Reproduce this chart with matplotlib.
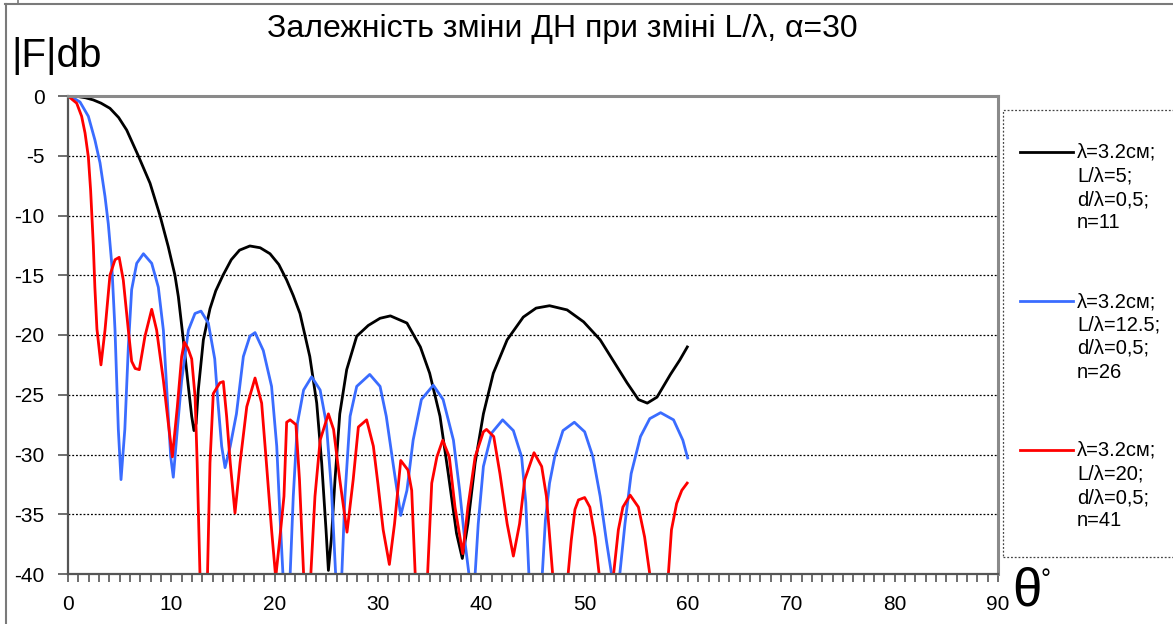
import matplotlib
matplotlib.use("Agg")
import matplotlib.pyplot as plt
from matplotlib.lines import Line2D
from matplotlib.patches import Rectangle

plt.rcParams['font.family'] = ['Liberation Sans', 'DejaVu Sans']

title = "Залежність зміни ДН при зміні L/λ, α=30"
y_label = "|F|db"
x_label = "θ"
x_ticks = [0, 10, 20, 30, 40, 50, 60, 70, 80, 90]
y_ticks = [0, -5, -10, -15, -20, -25, -30, -35, -40]

labels = [
    "λ=3.2см;\nL/λ=5;\nd/λ=0,5;\nn=11",
    "λ=3.2см;\nL/λ=12.5;\nd/λ=0,5;\nn=26",
    "λ=3.2см;\nL/λ=20;\nd/λ=0,5;\nn=41",
]
colors = ["#000000", "#3A6CFF", "#FF0000"]

# L/λ=5, n=11
theta_11 = [0, 1.0, 1.7, 2.45, 3.2, 4.06, 4.9, 5.68, 6.8, 7.94, 8.9, 9.7, 10.35, 10.68, 11.16, 11.58,
            11.97, 12.19, 12.4, 12.61, 13.1, 13.74, 14.3, 15.0, 15.8, 16.6, 17.6, 18.6, 19.55, 20.4,
            21.16, 21.8, 22.45, 23.4, 24.07, 24.55, 24.97, 25.2, 25.5, 25.84, 26.3, 26.97, 27.94,
            29.06, 30.2, 31.2, 32.8, 34.1, 35.0, 36.0, 36.8, 37.6, 38.16, 38.7, 39.4, 40.2, 41.16,
            42.5, 44.06, 45.3, 46.6, 48.3, 49.9, 51.5, 52.8, 54.1, 55.2, 56.06, 57.0, 58.3, 59.2, 60.0]
db_11 = [0, -0.05, -0.15, -0.33, -0.6, -1.03, -1.8, -2.85, -5.0, -7.3, -10.0, -12.6, -15.0, -16.8, -20.4,
         -23.8, -26.8, -28.0, -27.4, -24.6, -20.4, -17.8, -16.3, -15.0, -13.7, -12.9, -12.55, -12.7,
         -13.2, -14.1, -15.4, -16.7, -18.2, -21.8, -25.7, -30.7, -36.3, -39.7, -36.9, -32.1, -26.6,
         -22.9, -20.1, -19.2, -18.6, -18.4, -19.0, -21.0, -23.2, -26.8, -31.6, -36.6, -38.7, -35.8,
         -30.7, -26.6, -23.2, -20.4, -18.5, -17.75, -17.55, -17.9, -18.9, -20.4, -22.2, -24.0, -25.4,
         -25.7, -25.2, -23.3, -22.1, -20.9]

# L/λ=12.5, n=26
theta_26 = [0, 0.5, 1.16, 1.97, 2.61, 3.1, 3.58, 3.9, 4.23, 4.55, 4.87, 5.13, 5.5, 5.84, 6.16, 6.65,
            7.3, 8.1, 8.74, 9.23, 9.6, 9.94, 10.19, 10.58, 11.0, 11.65, 12.29, 12.87, 13.58, 14.2,
            14.5, 14.87, 15.2, 15.7, 16.3, 16.97, 17.6, 18.1, 18.9, 19.7, 20.2, 20.5, 20.8, 21.15,
            21.5, 21.8, 22.2, 22.8, 23.58, 24.4, 25.0, 25.5, 25.9, 26.2, 26.5, 26.8, 27.3, 27.94,
            29.2, 30.2, 30.8, 31.5, 32.2, 32.8, 33.4, 34.2, 35.35, 36.3, 37.3, 37.9, 38.4, 38.8,
            39.1, 39.4, 39.7, 40.2, 41.0, 42.06, 43.1, 43.9, 44.3, 44.6, 45.25, 45.9, 46.2, 46.6,
            47.1, 47.9, 49.0, 50.0, 50.8, 51.5, 52.1, 52.6, 53.0, 53.4, 53.9, 54.5, 55.4, 56.3,
            57.35, 58.6, 59.5, 60.0]
db_26 = [0, -0.15, -0.5, -1.7, -3.7, -5.6, -8.4, -10.7, -14.0, -19.6, -27.9, -32.1, -27.9, -21.0,
         -16.2, -14.0, -13.2, -14.0, -16.0, -19.6, -25.2, -30.2, -31.9, -27.9, -23.8, -19.6, -18.2,
         -18.0, -19.0, -22.0, -25.5, -29.3, -31.1, -29.3, -26.6, -21.8, -20.1, -19.8, -21.3, -24.3,
         -29.3, -34.9, -40.0, -48.0, -40.0, -33.5, -27.4, -24.6, -23.5, -24.6, -27.4, -33.0, -40.0,
         -48.0, -40.0, -33.5, -26.8, -24.3, -23.3, -24.3, -26.8, -31.0, -35.1, -33.0, -28.8, -25.4,
         -24.2, -25.4, -28.8, -33.0, -37.2, -40.0, -48.0, -40.0, -35.8, -31.0, -28.2, -27.1, -28.0,
         -30.2, -34.0, -40.0, -48.0, -40.0, -35.5, -32.4, -30.2, -28.0, -27.3, -28.1, -30.2, -33.5,
         -37.2, -40.0, -48.0, -40.0, -35.8, -31.6, -28.5, -27.0, -26.5, -27.1, -28.8, -30.4]

# L/λ=20, n=41
theta_41 = [0, 0.84, 1.32, 1.65, 1.97, 2.19, 2.35, 2.45, 2.6, 2.8, 3.19, 3.58, 4.06, 4.55, 4.95, 5.35,
            5.84, 6.16, 6.5, 6.9, 7.45, 8.1, 8.58, 9.23, 9.71, 10.1, 10.58, 11.0, 11.26, 11.6, 11.97,
            12.3, 12.5, 12.77, 13.15, 13.5, 13.74, 14.06, 14.7, 15.03, 15.35, 15.7, 16.16, 16.65,
            17.3, 18.1, 18.74, 19.2, 19.7, 20.1, 20.5, 20.9, 21.16, 21.5, 22.06, 22.4, 22.8, 23.15,
            23.5, 23.9, 24.4, 25.2, 25.7, 26.3, 27.0, 27.6, 28.1, 28.9, 29.55, 30.0, 30.5, 31.1,
            31.6, 32.2, 32.9, 33.26, 33.6, 34.2, 34.8, 35.2, 35.7, 36.26, 36.9, 37.45, 38.2, 38.7,
            39.4, 40.2, 40.5, 41.2, 41.8, 42.5, 43.1, 43.7, 44.2, 45.1, 45.84, 46.3, 46.9, 47.65,
            48.4, 48.7, 49.06, 49.4, 50.0, 50.5, 51.0, 51.4, 52.1, 52.8, 53.26, 53.7, 54.4, 55.2,
            55.8, 56.3, 57.2, 58.1, 58.4, 58.9, 59.4, 60.0]
db_41 = [0, -0.6, -1.7, -3.1, -5.1, -7.9, -10.7, -12.5, -16.0, -19.5, -22.5, -19.6, -15.0, -13.7,
         -13.5, -15.4, -19.6, -22.2, -22.8, -22.9, -20.1, -17.85, -19.6, -23.8, -27.4, -30.2, -26.0,
         -21.8, -20.6, -21.1, -22.0, -25.2, -30.7, -40.0, -48.0, -40.0, -30.7, -24.9, -24.0, -23.9,
         -26.8, -30.7, -34.9, -30.7, -26.0, -23.6, -25.7, -30.7, -36.3, -40.3, -37.0, -33.5, -27.3,
         -27.1, -27.5, -32.1, -40.0, -48.0, -40.0, -33.5, -28.8, -26.6, -27.9, -32.1, -36.5, -32.1,
         -27.7, -27.1, -29.3, -32.5, -36.3, -39.2, -35.8, -30.5, -31.3, -33.0, -40.0, -48.0, -40.0,
         -32.4, -30.2, -28.8, -30.2, -34.4, -38.3, -34.4, -30.2, -28.1, -27.9, -28.5, -31.6, -35.8,
         -38.5, -35.8, -32.1, -29.85, -31.0, -33.5, -40.0, -48.0, -40.0, -37.2, -34.6, -33.8, -33.6,
         -34.4, -36.9, -40.0, -48.0, -40.0, -36.3, -34.4, -33.4, -34.4, -36.9, -40.0, -48.0, -40.0,
         -36.3, -34.1, -33.0, -32.3]

W, H = 1173, 624
fig = plt.figure(figsize=(W / 100, H / 100), dpi=100)

def fx(px):
    return px / W

def fy(py):
    return 1 - py / H

ax = fig.add_axes([fx(68), fy(574), fx(998) - fx(68), fy(96) - fy(574)])
series = [(theta_11, db_11), (theta_26, db_26), (theta_41, db_41)]
for (t, d), c in zip(series, colors):
    ax.plot(t, d, color=c, lw=2.0, solid_joinstyle='round', solid_capstyle='butt')

ax.set_xlim(0, 90)
ax.set_ylim(-40, 0)
ax.set_xticks(x_ticks)
ax.set_xticks(range(0, 91), minor=True)
ax.set_yticks(y_ticks)
ax.set_yticklabels([str(v) for v in y_ticks])
ax.tick_params(axis='x', which='both', direction='out', length=6, width=1.2, color='#555555',
               labelsize=15, pad=9)
ax.tick_params(axis='y', which='major', direction='out', length=7, width=1.2, color='#555555',
               labelsize=15, pad=10)
for v in y_ticks[1:-1]:
    ax.axhline(v, color='black', lw=0.9, ls=(0, (1.5, 1.5)), zorder=0)
for s in ['top', 'right']:
    ax.spines[s].set_color('#8a8a8a')
    ax.spines[s].set_linewidth(2.2)
for s in ['left', 'bottom']:
    ax.spines[s].set_color('#555555')
    ax.spines[s].set_linewidth(1.6)

fig.text(fx(562), fy(29), title, ha='center', va='center', fontsize=23)
fig.text(fx(11), fy(56), y_label, ha='left', va='center', fontsize=29)
fig.text(fx(1012), fy(592), x_label, ha='left', va='center', fontsize=38)
fig.text(fx(1040), fy(580), "°", ha='left', va='center', fontsize=18)

# outer border
fig.add_artist(Line2D([fx(5.5), fx(5.5)], [fy(4), fy(624)], color='#7a7a7a', lw=1.5))
fig.add_artist(Line2D([fx(5), fx(1173)], [fy(4), fy(4)], color='#7a7a7a', lw=1.5))
fig.add_artist(Line2D([fx(18), fx(18)], [fy(0), fy(4)], color='#7a7a7a', lw=1.2))

# legend box
fig.add_artist(Rectangle((fx(1003), fy(557)), fx(1200) - fx(1003), fy(110) - fy(557),
                         fill=False, edgecolor='#444444', lw=0.9, ls=(0, (1.5, 1.5))))
entry_y = [152, 301, 450]
for c, lab, ey in zip(colors, labels, entry_y):
    fig.add_artist(Line2D([fx(1020), fx(1073)], [fy(ey), fy(ey)], color=c, lw=2.0))
    fig.text(fx(1077), fy(ey - 9), lab, ha='left', va='top', fontsize=14.5, linespacing=1.3)

fig.savefig("out.png", dpi=100)
